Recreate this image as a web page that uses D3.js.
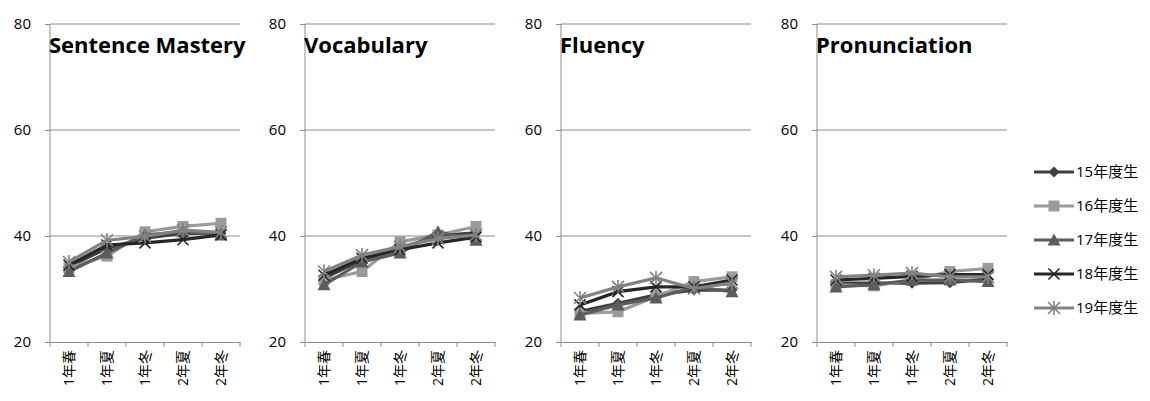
<!DOCTYPE html>
<html>
<head>
<meta charset="utf-8">
<script src="https://cdn.jsdelivr.net/npm/d3@7"></script>
<style>
  body { margin: 0; background: #fff; }
  svg { display: block; }
  text { font-family: "Open Sans", "Noto Sans CJK JP", sans-serif; }
</style>
</head>
<body>
<div id="canvas"></div>
<script>
// terms on the x axis
const terms = ["1年春", "1年夏", "1年冬", "2年夏", "2年冬"];
const cohorts = ["15年度生", "16年度生", "17年度生", "18年度生", "19年度生"];
const subjects = ["Sentence Mastery", "Vocabulary", "Fluency", "Pronunciation"];
const yTicks = [20, 40, 60, 80];

// one row per cohort (15..19)
const sentenceMastery = [
    [34.2, 37.7, 39.6, 40.5, 40.5],
    [34.0, 36.2, 40.8, 41.8, 42.4],
    [33.3, 36.8, 40.2, 40.8, 40.2],
    [34.5, 38.3, 38.7, 39.3, 40.2],
    [35.1, 39.2, 39.9, 41.1, 40.7]
];
const vocabulary = [
    [32.0, 35.5, 37.7, 40.1, 40.6],
    [31.7, 33.3, 38.9, 40.2, 41.8],
    [30.8, 35.1, 36.8, 40.8, 39.2],
    [32.6, 35.8, 37.4, 38.7, 39.8],
    [33.3, 36.4, 38.0, 39.5, 40.2]
];
const fluency = [
    [25.8, 27.3, 28.9, 29.8, 29.8],
    [25.4, 25.7, 28.6, 31.4, 32.3],
    [25.1, 27.0, 28.3, 30.4, 29.5],
    [27.0, 29.5, 30.4, 30.4, 31.7],
    [28.3, 30.4, 32.1, 30.1, 31.1]
];
const pronunciation = [
    [31.1, 31.1, 31.1, 31.2, 31.9],
    [30.8, 30.6, 31.7, 33.3, 33.9],
    [30.4, 30.8, 31.7, 31.7, 31.4],
    [31.7, 32.0, 32.4, 32.7, 32.7],
    [32.3, 32.6, 33.0, 32.3, 32.3]
];
const panelData = [sentenceMastery, vocabulary, fluency, pronunciation];

const colors = ["#3f3f3f", "#9b9b9b", "#5c5c5c", "#262626", "#828282"];
const markers = ["diamond", "square", "triangle", "cross", "star"];

const svg = d3.select("#canvas").append("svg")
    .attr("width", 1150)
    .attr("height", 401);

const panelLeft = [50, 305, 561, 817];
const panelWidth = 190;

const y = d3.scaleLinear().domain([20, 80]).range([342, 24]);

function drawMarker(g, type, color) {
    if (type == "diamond") {
        g.append("path").attr("d", "M0,-5.5 L5.5,0 L0,5.5 L-5.5,0 Z").attr("fill", color);
    } else if (type == "square") {
        g.append("rect").attr("x", -5.5).attr("y", -5.5).attr("width", 11).attr("height", 11).attr("fill", color);
    } else if (type == "triangle") {
        g.append("path").attr("d", "M0,-6.5 L6.5,5.5 L-6.5,5.5 Z").attr("fill", color);
    } else if (type == "cross") {
        g.append("path").attr("d", "M-5.5,-5.5 L5.5,5.5 M-5.5,5.5 L5.5,-5.5").attr("stroke", color).attr("stroke-width", 1.6);
    } else {
        g.append("path").attr("d", "M-6,-6 L6,6 M-6,6 L6,-6 M0,-7 L0,7").attr("stroke", color).attr("stroke-width", 1.6);
    }
}

subjects.forEach(function (subject, p) {
    const x0 = panelLeft[p];
    const x = d3.scaleBand().domain(terms).range([x0, x0 + panelWidth]);
    const g = svg.append("g");

    // grid lines
    g.append("g").selectAll("line")
        .data(yTicks.filter(function (d) { return d > 20; }))
        .enter().append("line")
        .attr("x1", x0).attr("x2", x0 + panelWidth)
        .attr("y1", function (d) { return y(d); })
        .attr("y2", function (d) { return y(d); })
        .attr("stroke", "#8c8c8c").attr("stroke-width", 1);

    // y axis
    const yAxis = g.append("g")
        .attr("transform", "translate(" + x0 + ",0)")
        .call(d3.axisLeft(y).tickValues(yTicks).tickSize(5).tickPadding(14));
    yAxis.select(".domain").attr("stroke", "#8c8c8c").attr("d", "M0," + y(80) + "V" + y(20));
    yAxis.selectAll(".tick line").attr("stroke", "#8c8c8c");
    yAxis.selectAll(".tick text").attr("font-size", 15).attr("fill", "#000")
        .attr("font-family", "Open Sans, sans-serif");

    // x axis
    const xAxis = g.append("g")
        .attr("transform", "translate(0," + y(20) + ")")
        .call(d3.axisBottom(x).tickSize(0).tickSizeOuter(0));
    xAxis.select(".domain").attr("stroke", "#8c8c8c");
    xAxis.selectAll(".tick text")
        .attr("font-size", 14).attr("fill", "#000")
        .attr("font-family", "Noto Sans CJK JP, sans-serif")
        .attr("text-anchor", "end")
        .attr("dy", "0.35em")
        .attr("transform", "translate(0,8) rotate(-90)")
        .attr("x", 0).attr("y", 0);
    // tick marks between bands
    xAxis.append("g").selectAll("line")
        .data(d3.range(terms.length + 1))
        .enter().append("line")
        .attr("x1", function (i) { return x0 + i * x.bandwidth(); })
        .attr("x2", function (i) { return x0 + i * x.bandwidth(); })
        .attr("y1", 0).attr("y2", 5)
        .attr("stroke", "#8c8c8c");

    // title clipped to the plot width
    svg.append("clipPath").attr("id", "clip" + p)
        .append("rect").attr("x", x0 - 2).attr("y", 0).attr("width", panelWidth + 8).attr("height", 100);
    g.append("text")
        .attr("clip-path", "url(#clip" + p + ")")
        .attr("x", x0 - 1).attr("y", 53)
        .attr("font-size", 22).attr("font-weight", "bold")
        .attr("fill", "#000")
        .text(subject);

    const line = d3.line()
        .x(function (d, i) { return x(terms[i]) + x.bandwidth() / 2; })
        .y(function (d) { return y(d); });

    panelData[p].forEach(function (series, s) {
        g.append("path")
            .attr("d", line(series))
            .attr("fill", "none")
            .attr("stroke", colors[s])
            .attr("stroke-width", 3.2);
        series.forEach(function (v, i) {
            const m = g.append("g")
                .attr("transform", "translate(" + (x(terms[i]) + x.bandwidth() / 2) + "," + y(v) + ")");
            drawMarker(m, markers[s], colors[s]);
        });
    });
});

// legend
const legend = svg.append("g");
cohorts.forEach(function (name, s) {
    const ly = 172 + s * 34;
    const lg = legend.append("g");
    lg.append("line").attr("x1", 1034).attr("x2", 1074).attr("y1", ly).attr("y2", ly)
        .attr("stroke", colors[s]).attr("stroke-width", 3.2);
    const m = lg.append("g").attr("transform", "translate(1054," + ly + ")");
    drawMarker(m, markers[s], colors[s]);
    lg.append("text").attr("x", 1076).attr("y", ly).attr("dy", "0.35em")
        .attr("font-size", 15).attr("fill", "#000")
        .attr("font-family", "Open Sans, Noto Sans CJK JP, sans-serif")
        .text(name);
});
</script>
</body>
</html>
